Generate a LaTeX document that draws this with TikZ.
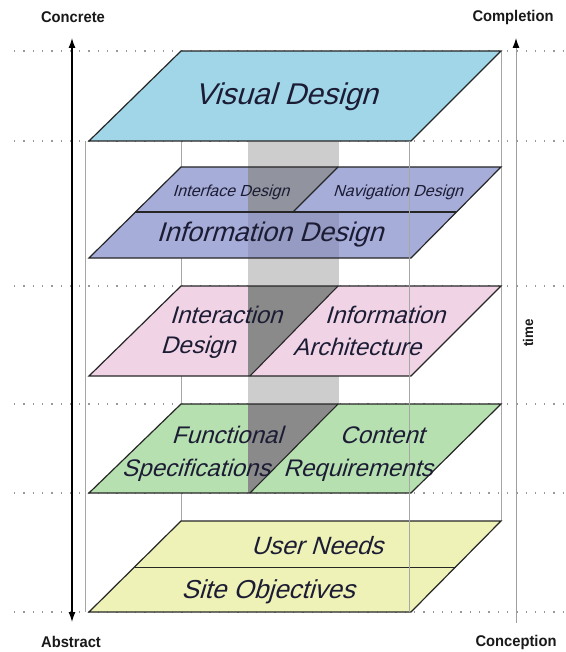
\documentclass[tikz,border=0pt]{standalone}
\usepackage{fontspec}
\setmainfont{Liberation Sans}
\newfontfamily\planefont[FakeSlant=0.3]{Liberation Sans}
\newfontfamily\polefont[FakeStretch=0.95]{Liberation Sans}
\usetikzlibrary{arrows.meta}

\definecolor{visualblue}{RGB}{160,214,232}
\definecolor{infoblue}{RGB}{166,173,217}
\definecolor{interpink}{RGB}{240,212,230}
\definecolor{funcgreen}{RGB}{182,224,176}
\definecolor{needyellow}{RGB}{238,242,182}
\definecolor{bandgray}{RGB}{205,205,205}
\definecolor{shadegray}{RGB}{138,138,138}
\definecolor{inkblue}{RGB}{28,28,52}

\begin{document}
\begin{tikzpicture}[x=1pt,y=-1pt,>={Latex[length=10pt,width=7pt]},
  plane/.style={draw=black!85,line width=1.2pt,line join=miter},
  seam/.style={black!85,line width=1.1pt},
  frame/.style={gray!70,line width=0.8pt},
  guide/.style={gray!80,line width=1.3pt,dash pattern=on 1.3pt off 8pt},
  layer/.style={font=\planefont\fontsize{24}{26}\selectfont,text=inkblue,inner sep=0pt},
  small layer/.style={layer,font=\planefont\fontsize{16}{18}\selectfont},
  pole/.style={font=\polefont\bfseries\fontsize{15.5}{17}\selectfont,text=black!90,inner sep=0pt}]
  \fill[white] (0,0) rectangle (565,652);
  \useasboundingbox (0,0) rectangle (565,652);

  % dotted level guides
  \foreach \y in {51,141,286,404,493,612}
    \draw[guide] (14,\y) -- (565,\y);

  % vertical band and box frame
  \fill[bandgray] (248,141) rectangle (339,493);
  \draw[frame] (181,51) -- (181,521);
  \draw[frame] (501,51) -- (501,521);
  \draw[frame] (85,141) -- (85,612);

  % the five planes
  \foreach \top/\bot/\col in {51/141/visualblue,167/258/infoblue,286/376/interpink,404/493/funcgreen,521/612/needyellow}
    \fill[\col] (89,\bot) -- (181,\top) -- (501,\top) -- (411,\bot) -- cycle;

  % band seen through the planes
  \fill[shadegray!75!infoblue] (248,167) -- (338,167) -- (293,212) -- (248,212) -- cycle;
  \fill[black,opacity=.1] (248,212) rectangle (339,258);
  \fill[shadegray] (248,286) -- (338,286) -- (250,376) -- (248,376) -- cycle;
  \fill[shadegray] (248,404) -- (338,404) -- (250,493) -- (248,493) -- cycle;

  \foreach \top/\bot in {51/141,167/258,286/376,404/493,521/612}
    \draw[plane] (89,\bot) -- (181,\top) -- (501,\top) -- (411,\bot) -- cycle;

  % seams inside the planes
  \draw[seam] (135,212) -- (456,212);
  \draw[seam] (338,167) -- (293,212);
  \draw[seam] (338,286) -- (250,376);
  \draw[seam] (338,404) -- (250,493);
  \draw[seam,line width=0.9pt] (135,567) -- (456,567);
  \draw[frame] (409,141) -- (409,612);

  % axes
  \node[pole] (concrete) at (73,17) {Concrete};
  \node[pole] (abstract) at (71,642) {Abstract};
  \node[pole] (completion) at (513,17) {Completion};
  \node[pole] (conception) at (516,642) {Conception};
  \coordinate (concrete tip) at (72,38);
  \coordinate (abstract tip) at (72,622);
  \coordinate (completion tip) at (516,38);
  \coordinate (conception end) at (516,623);
  \draw[<->,line width=1.3pt] (concrete tip) -- (abstract tip);
  \draw[gray!75,line width=1pt,-{Latex[length=10pt,width=7pt,black]}] (conception end) -- (completion tip);
  \node[pole,rotate=90,font=\polefont\bfseries\fontsize{14}{16}\selectfont] (time) at (528,333) {time};

  % layer names
  \node[layer,font=\planefont\fontsize{30}{32}\selectfont] (visual) at (286,97) {Visual Design};
  \node[small layer] (interface) at (231,192) {Interface Design};
  \node[small layer] (navigation) at (398,192) {Navigation Design};
  \node[layer,font=\planefont\fontsize{27}{29}\selectfont] (information) at (270,235) {Information Design};
  \node[layer] (interaction) at (226,315) {Interaction};
  \node[layer] (interaction2) at (198,347) {Design};
  \node[layer] (architecture) at (385,315) {Information};
  \node[layer] (architecture2) at (357,347) {Architecture};
  \node[layer] (functional) at (227,435) {Functional};
  \node[layer] (functional2) at (196,470) {Specifications};
  \node[layer] (content) at (382,435) {Content};
  \node[layer] (content2) at (358,470) {Requirements};
  \node[layer,font=\planefont\fontsize{25}{27}\selectfont] (needs) at (317,546) {User Needs};
  \node[layer,font=\planefont\fontsize{26}{28}\selectfont] (objectives) at (268,592) {Site Objectives};
\end{tikzpicture}
\end{document}
